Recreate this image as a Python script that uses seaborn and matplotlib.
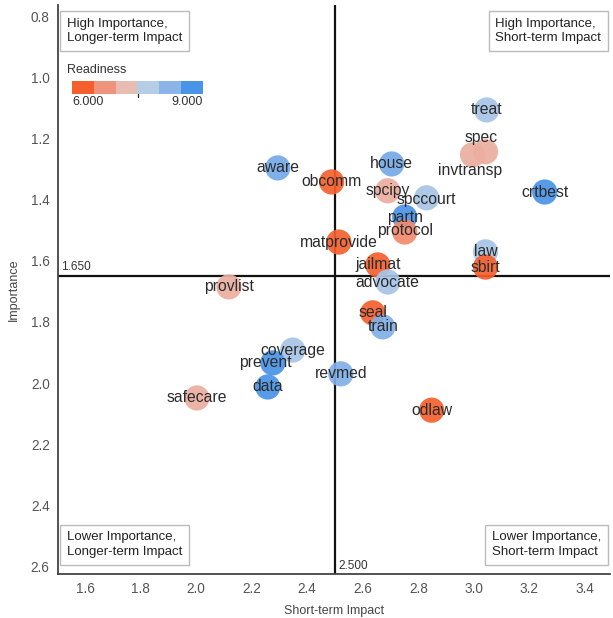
import numpy as np
import pandas as pd
import matplotlib
matplotlib.use("Agg")
import matplotlib.pyplot as plt
import seaborn as sns
from matplotlib.colors import LinearSegmentedColormap

# ---- data ----
labels = ["treat", "spec", "invtransp", "crtbest", "aware", "obcomm", "house",
          "spcipy", "spccourt", "partn", "protocol", "matprovide", "jailmat",
          "advocate", "law", "sbirt", "provlist", "seal", "train", "coverage",
          "prevent", "data", "revmed", "safecare", "odlaw"]
short_term_impact = [3.046, 3.042, 2.995, 3.255, 2.294, 2.488, 2.704,
                     2.690, 2.830, 2.751, 2.751, 2.514, 2.654,
                     2.690, 3.042, 3.042, 2.118, 2.636, 2.672, 2.348,
                     2.276, 2.258, 2.521, 2.003, 2.848]
importance = [1.105, 1.242, 1.252, 1.374, 1.295, 1.341, 1.282,
              1.370, 1.393, 1.456, 1.505, 1.538, 1.613,
              1.669, 1.570, 1.620, 1.685, 1.770, 1.816, 1.892,
              1.934, 2.013, 1.970, 2.049, 2.089]
readiness = [8.0, 7.0, 7.0, 9.0, 8.6, 6.0, 8.6,
             7.0, 8.0, 9.0, 6.5, 6.0, 6.0,
             8.0, 8.0, 6.0, 7.0, 6.0, 8.5, 8.0,
             9.0, 9.0, 8.5, 7.0, 6.0]
ref_x = 2.5
ref_y = 1.65

df = pd.DataFrame({"label": labels, "x": short_term_impact,
                   "y": importance, "r": readiness})

# label offsets (points) to reduce overlap
label_offsets = {"spec": (-3, 10), "invtransp": (-2, -11), "prevent": (-5, 0),
                 "protocol": (0, 1), "spccourt": (0, -1)}

cmap = LinearSegmentedColormap.from_list(
    "ready", ["#F55F2E", "#F0937D", "#E8BCB2", "#B5CDE6", "#8BB5E8", "#4A94E8"])

sns.set_theme(style="white")
plt.rcParams["font.family"] = ["Liberation Sans", "DejaVu Sans"]

fig = plt.figure(figsize=(6.13, 6.18), dpi=100)
ax = fig.add_axes([58/613, 44/618, 552/613, 569/618])

sns.scatterplot(data=df, x="x", y="y", hue="r", palette=cmap, hue_norm=(6, 9),
                s=330, alpha=0.92, edgecolor="none", legend=False, ax=ax, zorder=3)

for lab, xx, yy in zip(labels, short_term_impact, importance):
    dx, dy = label_offsets.get(lab, (0, 0))
    ax.annotate(lab, (xx, yy), xytext=(dx, dy), textcoords="offset points",
                ha="center", va="center", fontsize=11.3, color="#2b2b2b", zorder=5)

ax.axvline(ref_x, color="#111111", lw=1.6, zorder=2)
ax.axhline(ref_y, color="#111111", lw=1.6, zorder=2)

ax.set_xlim(1.503, 3.49)
ax.set_ylim(2.626, 0.761)
ax.set_xticks(np.arange(1.6, 3.41, 0.2))
ax.set_yticks(np.arange(0.8, 2.61, 0.2))
ax.xaxis.set_major_formatter(matplotlib.ticker.FormatStrFormatter("%.1f"))
ax.yaxis.set_major_formatter(matplotlib.ticker.FormatStrFormatter("%.1f"))
ax.tick_params(axis="both", length=0, labelsize=9.8, labelcolor="#555555", pad=6)
ax.set_xlabel("Short-term Impact", fontsize=9, color="#444444", labelpad=6)
ax.set_ylabel("Importance", fontsize=9, color="#444444", labelpad=8)
for side in ["top", "right"]:
    ax.spines[side].set_visible(False)
for side in ["left", "bottom"]:
    ax.spines[side].set_color("#444444")
    ax.spines[side].set_linewidth(1.3)

ax.text(ax.get_xlim()[0] + 0.012, ref_y - 0.012, f"{ref_y:.3f}", fontsize=8.5,
        color="#333333", ha="left", va="bottom")
ax.text(ref_x + 0.012, 2.62, f"{ref_x:.3f}", fontsize=8.5, color="#333333",
        ha="left", va="bottom")

box = dict(boxstyle="square,pad=0.5", fc="white", ec="#BBBBBB", lw=1)
kw = dict(transform=ax.transAxes, fontsize=9.5, color="#222222", bbox=box,
          linespacing=1.3, multialignment="left")
ax.text(0.016, 0.978, "High Importance,\nLonger-term Impact", ha="left", va="top", **kw)
ax.text(0.984, 0.978, "High Importance,\nShort-term Impact", ha="right", va="top", **kw)
ax.text(0.016, 0.028, "Lower Importance,\nLonger-term Impact", ha="left", va="bottom", **kw)
ax.text(0.984, 0.028, "Lower Importance,\nShort-term Impact", ha="right", va="bottom", **kw)

# readiness legend
fig.text(67/613, 1 - 70/618, "Readiness", fontsize=9, color="#333333",
         ha="left", va="center")
cax = fig.add_axes([72/613, 1 - 94/618, 131/613, 13/618])
cax.imshow(np.linspace(6, 9, 6).reshape(1, -1), cmap=cmap, vmin=6, vmax=9,
           aspect="auto", extent=(0, 6, 0, 1))
cax.set_axis_off()
fig.text(72/613, 1 - 102/618, "6.000", fontsize=9, color="#333333",
         ha="left", va="center")
fig.text(203/613, 1 - 102/618, "9.000", fontsize=9, color="#333333",
         ha="right", va="center")
fig.lines.append(plt.Line2D([138/613, 138/613], [1 - 94/618, 1 - 97/618],
                            transform=fig.transFigure, color="#333333", lw=1))

fig.savefig("out.png", dpi=100, facecolor="white")
